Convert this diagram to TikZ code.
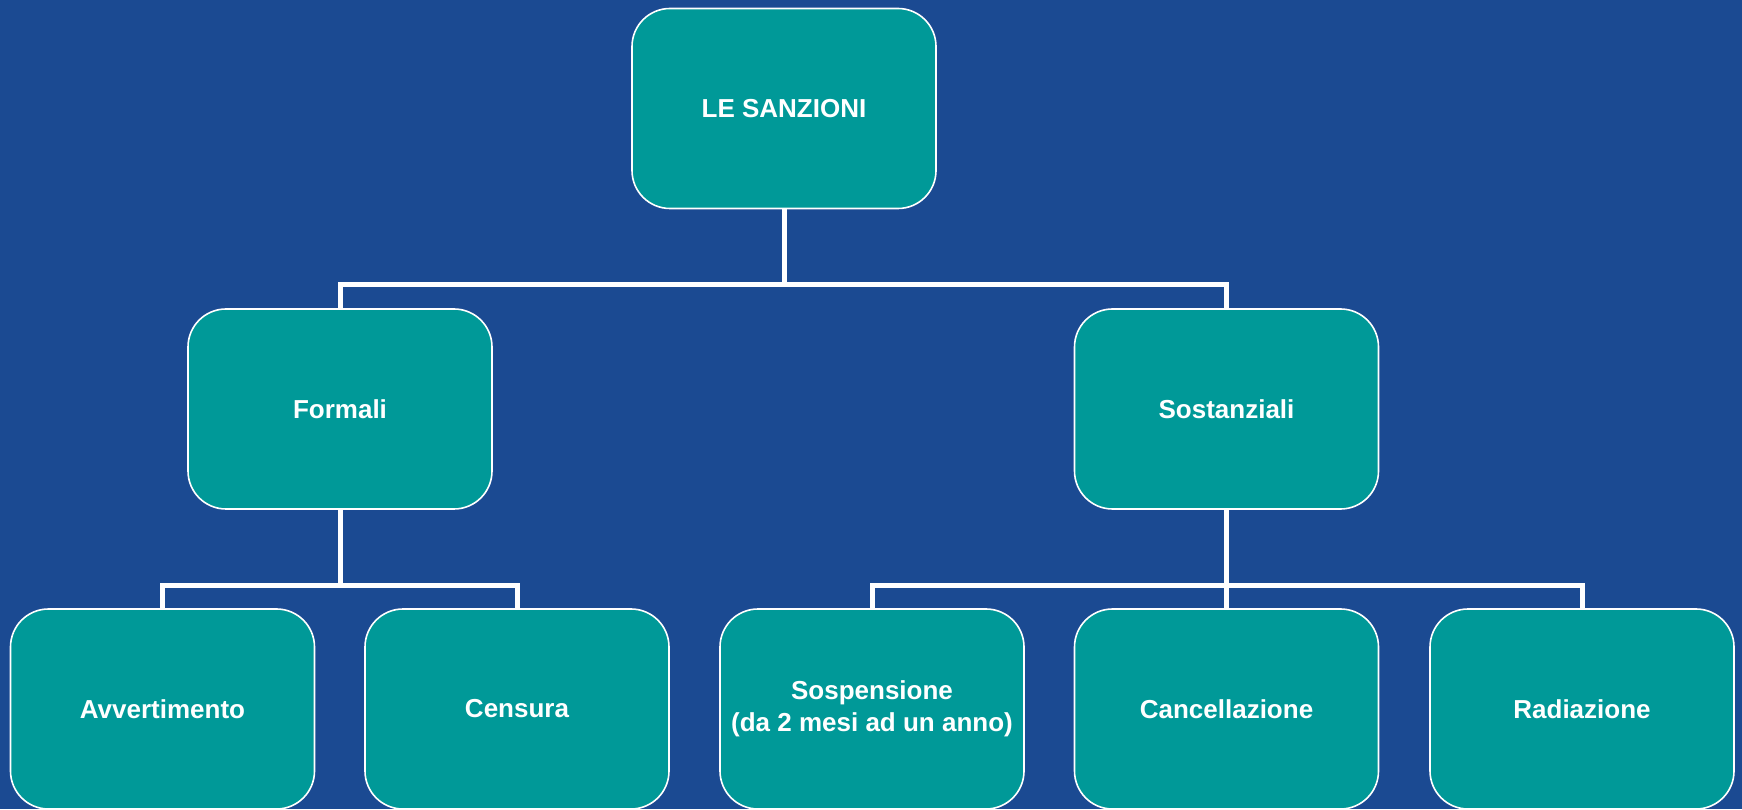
\documentclass[tikz,border=0pt]{standalone}
\usepackage{fontspec}
\setmainfont{Liberation Sans}
\usetikzlibrary{positioning}
\definecolor{sfondo}{RGB}{27,74,146}
\definecolor{verdeacqua}{RGB}{0,153,152}
\tikzset{
  casella/.style={draw=white,line width=1.6pt,fill=verdeacqua,rounded corners=38pt,
    minimum width=304pt,minimum height=200pt,text=white,align=center,
    font=\bfseries\fontsize{26}{32}\selectfont},
  linea/.style={draw=white,line width=5pt,line join=miter}
}
\begin{document}
\begin{tikzpicture}[x=1pt,y=1pt]
        \def\W{1742} \def\H{809}
        \fill[sfondo] (0,0) rectangle (\W,\H);
        \useasboundingbox (0,0) rectangle (\W,\H);
        %\draw[line width=0.1pt,dashed] (0,0) grid[step=100] (\W,\H);
        \node[casella] (sanzioni) at (784,700.5) {LE SANZIONI};
        \node[casella] (formali) at (340,400) {Formali};
        \node[casella] (sostanziali) at (1226.5,400) {Sostanziali};
        \node[casella] (avvertimento) at (162.5,100) {Avvertimento};
        \node[casella] (censura) at (517,100) {Censura};
        \node[casella] (sospensione) at (872,100) {Sospensione\\(da 2 mesi ad un anno)};
        \node[casella] (cancellazione) at (1226.5,100) {Cancellazione};
        \node[casella] (radiazione) at (1582,100) {Radiazione};
        \coordinate (giunto1) at (784,524);
        \coordinate (giunto2) at (340,224);
        \coordinate (giunto3) at (1226.5,224);
        \draw[linea] (sanzioni.south) -- (giunto1) -| (formali.north);
        \draw[linea] (giunto1) -| (sostanziali.north);
        \draw[linea] (formali.south) -- (giunto2) -| (avvertimento.north);
        \draw[linea] (giunto2) -| (censura.north);
        \draw[linea] (sostanziali.south) -- (giunto3) -| (sospensione.north);
        \draw[linea] (giunto3) -| (radiazione.north);
        \draw[linea] (giunto3) -- (cancellazione.north);
    \end{tikzpicture}
\end{document}
